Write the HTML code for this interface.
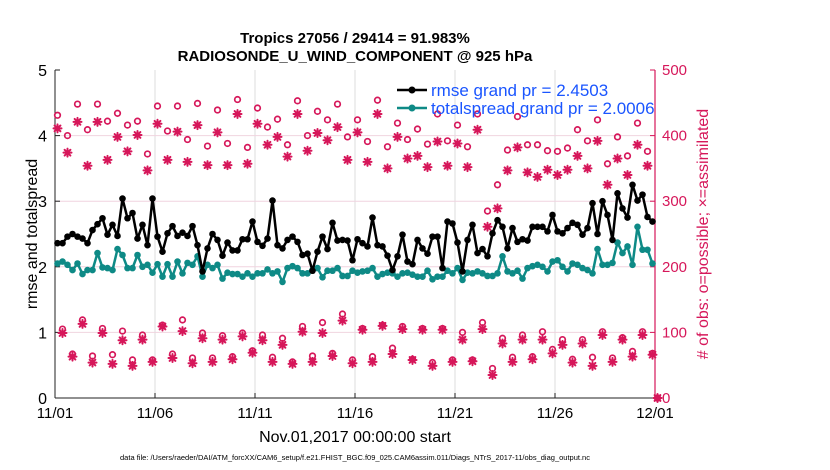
<!DOCTYPE html>
<html><head><meta charset="utf-8"><style>
html,body{margin:0;padding:0;background:#fff;}
svg{display:block;font-family:"Liberation Sans",Arial,sans-serif;}
</style></head><body>
<svg id="chart" width="830" height="470" viewBox="0 0 830 470" xmlns="http://www.w3.org/2000/svg">
<text x="355" y="43" text-anchor="middle" font-size="15" font-weight="bold">Tropics 27056 / 29414 = 91.983%</text>
<text x="355" y="61" text-anchor="middle" font-size="15" font-weight="bold">RADIOSONDE_U_WIND_COMPONENT @ 925 hPa</text>
<g id="grid"></g>
<g id="axes"></g>
<g id="marks"></g>
<text x="355" y="442" text-anchor="middle" font-size="16">Nov.01,2017 00:00:00 start</text>
<text transform="translate(37,234) rotate(-90)" text-anchor="middle" font-size="16">rmse and totalspread</text>
<text transform="translate(708,234) rotate(-90)" text-anchor="middle" font-size="16" fill="#d6175a"># of obs: o=possible; ×=assimilated</text>
<text x="355" y="460" text-anchor="middle" font-size="7.5">data file: /Users/raeder/DAI/ATM_forcXX/CAM6_setup/f.e21.FHIST_BGC.f09_025.CAM6assim.011/Diags_NTrS_2017-11/obs_diag_output.nc</text>
<g>
<line x1="397" y1="90" x2="427" y2="90" stroke="#000" stroke-width="2.5"/>
<circle cx="412" cy="90" r="3.5" fill="#000"/>
<text x="431" y="96" font-size="17" fill="#1a55ff">rmse grand pr = 2.4503</text>
<line x1="397" y1="108" x2="427" y2="108" stroke="#0e8a86" stroke-width="2.5"/>
<circle cx="412" cy="108" r="3.5" fill="#0e8a86"/>
<text x="431" y="114" font-size="17" fill="#1a55ff">totalspread grand pr = 2.0006</text>
</g>
</svg>
<script>
const rmse=[2.36,2.36,2.46,2.50,2.46,2.43,2.36,2.56,2.65,2.74,2.49,2.64,2.47,3.04,2.74,2.82,2.43,2.64,2.33,3.04,2.46,2.23,2.51,2.62,2.47,2.52,2.47,2.62,2.33,1.93,2.28,2.50,2.41,2.17,2.37,2.25,2.25,2.42,2.42,2.69,2.38,2.32,2.43,3.01,2.33,2.28,2.41,2.46,2.38,2.18,2.20,1.94,2.23,2.46,2.27,2.67,2.40,2.41,2.40,2.10,2.42,
2.36,2.31,2.75,2.33,2.31,2.17,1.95,2.16,2.49,2.08,2.04,2.41,2.28,2.20,2.46,2.46,1.98,2.69,2.66,2.37,1.93,2.41,2.64,2.21,2.27,2.16,2.51,2.71,2.61,2.28,2.59,2.38,2.42,2.40,2.61,2.61,2.61,2.54,2.79,2.54,2.51,2.59,2.67,2.64,2.49,2.59,2.97,2.50,3.00,2.79,2.41,3.12,2.89,2.75,3.25,3.01,3.10,2.76,2.69];
const spread=[2.05,2.08,2.03,1.95,2.05,1.89,1.95,1.95,2.21,1.99,1.98,1.95,2.27,2.18,1.98,1.98,2.18,2.00,2.03,1.91,2.04,1.85,2.04,1.85,2.08,1.90,2.06,2.03,2.16,1.85,2.03,1.98,2.03,1.82,1.91,1.89,1.89,1.85,1.90,1.85,1.90,1.90,1.96,1.90,1.93,1.77,1.98,2.01,1.98,1.90,1.90,1.95,1.98,1.84,1.94,1.94,1.98,1.86,1.86,1.94,1.91,
1.93,1.94,1.98,1.85,1.89,1.91,1.90,1.85,1.90,1.91,1.88,1.85,1.85,1.94,1.81,1.85,1.85,1.94,1.90,1.98,1.80,1.91,1.90,1.93,1.90,1.86,1.86,1.90,2.16,1.93,1.90,1.94,1.82,1.98,2.01,2.03,2.00,1.93,2.08,2.10,2.00,1.93,2.05,2.03,1.98,1.95,1.90,2.27,2.03,2.03,2.06,2.37,2.21,2.31,2.03,2.61,2.26,2.26,2.05];
const possibleHigh=[431,400,448,409,448,422,434,416,422,372,445,407,445,394,449,384,439,388,455,382,442,413,425,386,453,400,437,424,448,398,424,391,454,383,419,394,410,387,433,392,416,383,433,285,325,378,429,386,386,377,376,381,409,392,424,357,398,369,419,376];
const possibleLow=[105,67,119,64,106,66,102,58,96,58,111,67,119,61,99,61,95,63,99,72,96,62,91,55,109,64,115,68,128,58,106,63,111,76,109,59,106,54,106,58,100,58,115,45,91,62,96,63,101,74,89,59,89,62,101,61,92,71,101,68];
const assimHigh=[411,374,421,354,421,363,398,376,401,347,418,363,406,360,416,355,405,355,433,357,418,386,398,368,433,377,404,393,413,363,405,360,433,350,398,365,369,352,391,354,388,352,409,261,289,347,382,344,337,348,340,348,369,350,392,325,365,340,386,354];
const assimLow=[99,63,113,54,99,52,88,49,89,55,109,61,102,53,91,55,89,59,94,69,88,55,81,52,101,55,99,64,118,53,104,55,110,67,105,58,104,49,104,55,89,56,105,35,83,55,89,59,89,68,81,54,83,49,96,55,89,63,96,66];
const finalCount=0;
const xTickLabels=["11/01","11/06","11/11","11/16","11/21","11/26","12/01"];
const leftTicks=[0,1,2,3,4,5];
const rightTicks=[0,100,200,300,400,500];

const NS="http://www.w3.org/2000/svg";
const X0=55,X1=655,Y0=398,Y1=70,DAYS=30;
const PINK="#d6175a",TEAL="#0e8a86";
function xDay(d){return X0+(X1-X0)*d/DAYS;}
function xIdx(i){return xDay((i+0.5)*0.25);}
function yL(v){return Y0-(Y0-Y1)*v/5;}
function yR(v){return Y0-(Y0-Y1)*v/500;}
function mk(tag,attrs,parent){const e=document.createElementNS(NS,tag);for(const k in attrs)e.setAttribute(k,attrs[k]);parent.appendChild(e);return e;}
const grid=document.getElementById('grid'),axes=document.getElementById('axes'),marks=document.getElementById('marks');

xTickLabels.forEach((t,i)=>{const x=xDay(i*5);
 if(i>0&&i<xTickLabels.length-1){const g=mk('line',{x1:x,y1:Y1,x2:x,y2:Y0,stroke:'#dcdcdc','stroke-width':1},grid);
 
 }
 const tk=mk('line',{x1:x,y1:Y0,x2:x,y2:Y0-5,stroke:'#222','stroke-width':1},axes);
 
 
 const tx=mk('text',{x:x,y:Y0+20,'text-anchor':'middle','font-size':15},axes);tx.textContent=t;
 
 
});
rightTicks.forEach(v=>{const y=yR(v);
 if(v>0&&v<500){const g=mk('line',{x1:X0,y1:y,x2:X1,y2:y,stroke:'#f0d4df','stroke-width':1},grid);
 
 }
 const tk=mk('line',{x1:X1,y1:y,x2:X1-5,y2:y,stroke:PINK,'stroke-width':1},axes);
 
 
 const tx=mk('text',{x:X1+7,y:y+5,'font-size':15,fill:PINK},axes);tx.textContent=v;
 
 
});
leftTicks.forEach(v=>{const y=yL(v);
 const tk=mk('line',{x1:X0,y1:y,x2:X0+5,y2:y,stroke:'#222','stroke-width':1},axes);
 
 
 const tx=mk('text',{x:X0-8,y:y+6,'text-anchor':'end','font-size':16},axes);tx.textContent=v;
 
 
});
let a=mk('line',{x1:X0,y1:Y1,x2:X0,y2:Y0,stroke:'#222','stroke-width':1},axes);


a=mk('line',{x1:X0,y1:Y0,x2:X1,y2:Y0,stroke:'#222','stroke-width':1},axes);


a=mk('line',{x1:X1,y1:Y1,x2:X1,y2:Y0,stroke:PINK,'stroke-width':1.2},axes);



// obs counts interleaved (high at 0Z/12Z, low at 6Z/18Z)
const possible=[],assim=[];
for(let k=0;k<possibleHigh.length;k++){possible.push(possibleHigh[k],possibleLow[k]);assim.push(assimHigh[k],assimLow[k]);}
possible.push(finalCount);assim.push(finalCount);

function star(cx,cy,r,parent){const g=mk('g',{stroke:PINK,'stroke-width':2,'stroke-linecap':'round'},parent);
 mk('line',{x1:cx-r,y1:cy,x2:cx+r,y2:cy},g);mk('line',{x1:cx,y1:cy-r,x2:cx,y2:cy+r},g);
 const d=r*0.72;mk('line',{x1:cx-d,y1:cy-d,x2:cx+d,y2:cy+d},g);mk('line',{x1:cx-d,y1:cy+d,x2:cx+d,y2:cy-d},g);return g;}
assim.forEach((v,i)=>{const s=star(xIdx(i),yR(v),4,marks);
 
 });
possible.forEach((v,i)=>{const c=mk('circle',{cx:xIdx(i),cy:yR(v),r:2.8,fill:'none',stroke:PINK,'stroke-width':1.7},marks);
 
 });

function series(vals,color,name){
 const pts=vals.map((v,i)=>xIdx(i).toFixed(1)+','+yL(v).toFixed(1)).join(' ');
 const pl=mk('polyline',{points:pts,fill:'none',stroke:color,'stroke-width':2.5,'stroke-linejoin':'round'},marks);
 
 
 vals.forEach((v,i)=>{const c=mk('circle',{cx:xIdx(i),cy:yL(v),r:3.3,fill:color},marks);
  
  });
}
series(spread,TEAL,'totalspread');
series(rmse,'#000','rmse');
</script>
</body></html>
